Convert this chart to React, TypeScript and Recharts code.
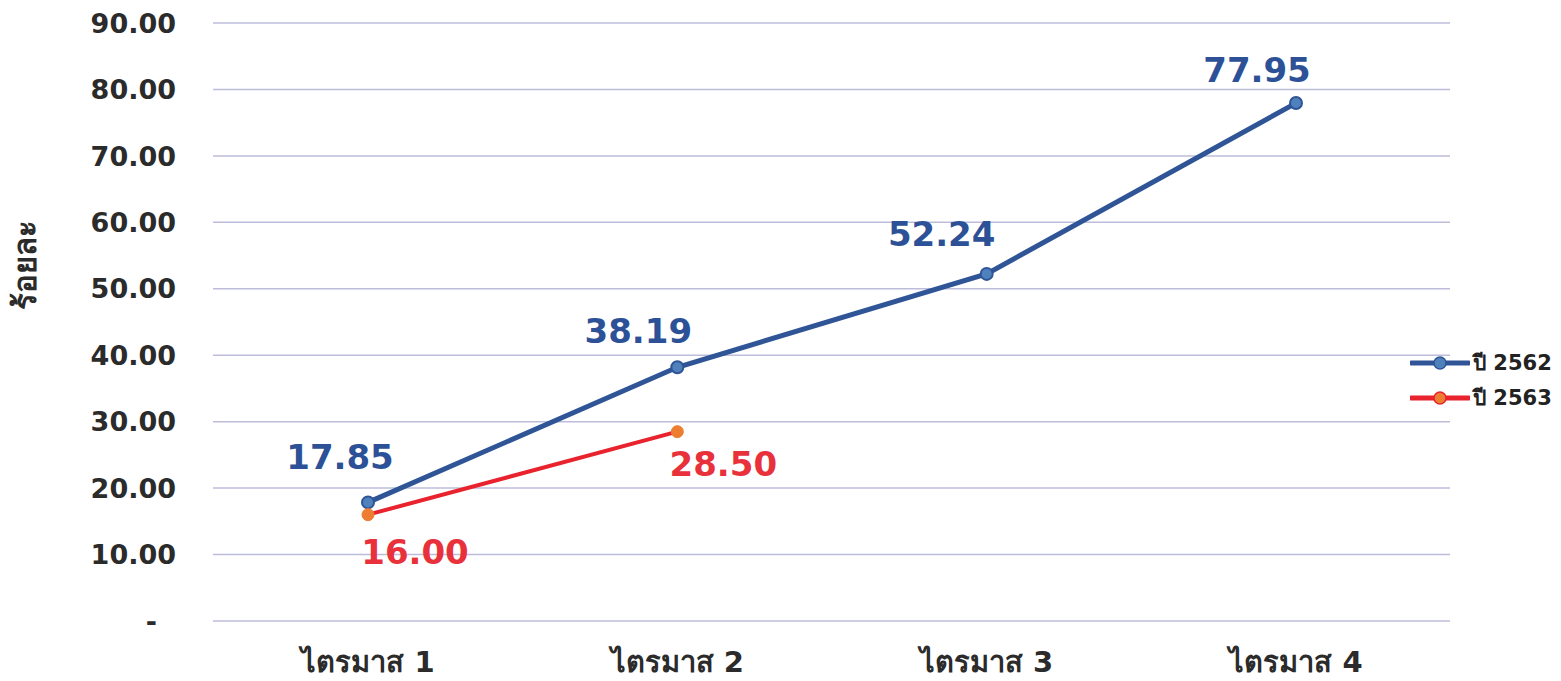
import React from 'react';
import {
    LineChart,
    Line,
    XAxis,
    YAxis,
    CartesianGrid,
    Legend,
    LabelList,
} from 'recharts';

const categories = ['ไตรมาส 1', 'ไตรมาส 2', 'ไตรมาส 3', 'ไตรมาส 4'];
const year2562 = [17.85, 38.19, 52.24, 77.95];
const year2563 = [16.0, 28.5, null, null];
const yTicks = [0, 10, 20, 30, 40, 50, 60, 70, 80, 90];

// label nudges so the numbers sit where the original put them
const blueLabelOffsets = [[-28, -43], [-39, -34], [-45, -37], [-39, -31]];
const redLabelOffsets = [[47, 40], [46, 35]];

const FONT = '"DejaVu Sans", Tahoma, sans-serif';
const BLUE = '#2c5197';
const RED = '#e8232d';

const rows = categories.map((name, i) => ({
    name,
    y2562: year2562[i],
    y2563: year2563[i],
}));

const YTick = (props: any) => {
    const { x, y, payload } = props;
    const isZero = payload.value === 0;
    return (
        <text
            x={isZero ? x - 19 : x}
            y={y}
            dy="0.36em"
            textAnchor="end"
            fill="#2b2b2b"
            fontFamily={FONT}
            fontWeight="bold"
            fontSize={27}
        >
            {isZero ? '-' : Number(payload.value).toFixed(2)}
        </text>
    );
};

const XTick = (props: any) => {
    const { x, y, payload } = props;
    return (
        <text
            x={x}
            y={y}
            dy={43}
            textAnchor="middle"
            fill="#2b2b2b"
            fontFamily={FONT}
            fontWeight="bold"
            fontSize={29}
        >
            {payload.value}
        </text>
    );
};

const makeLabel = (color: string, offsets: number[][]) => (props: any) => {
    const { x, y, value, index } = props;
    if (value == null) return null;
    const [dx, dy] = offsets[index] || [0, -30];
    return (
        <text
            x={x + dx}
            y={y + dy}
            dominantBaseline="middle"
            textAnchor="middle"
            fill={color}
            fontFamily={FONT}
            fontWeight="bold"
            fontSize={34}
        >
            {Number(value).toFixed(2)}
        </text>
    );
};

const AxisTitle = (props: any) => {
    const { viewBox } = props;
    const cx = viewBox.x + 19;
    const cy = viewBox.y + viewBox.height / 2 - 57;
    return (
        <text
            x={cx}
            y={cy}
            transform={`rotate(-90 ${cx} ${cy})`}
            textAnchor="middle"
            dominantBaseline="middle"
            fill="#2b2b2b"
            fontFamily={FONT}
            fontWeight="bold"
            fontSize={31}
        >
            ร้อยละ
        </text>
    );
};

const legendItems = [
    { label: 'ปี 2562', line: '#2f5597', dot: '#4f81bd' },
    { label: 'ปี 2563', line: RED, dot: '#ed7d31' },
];

const LegendBox = () => (
    <div style={{ marginLeft: -40, width: 150 }}>
        {legendItems.map((item) => (
            <div key={item.label} style={{ display: 'flex', alignItems: 'center', height: 35 }}>
                <svg width={60} height={16} style={{ flex: 'none' }}>
                    <line x1={1} y1={8} x2={59} y2={8} stroke={item.line} strokeWidth={5} strokeLinecap="round" />
                    <circle cx={30} cy={8} r={6} fill={item.dot} stroke={item.line} strokeWidth={1.5} />
                </svg>
                <span
                    style={{
                        fontFamily: FONT,
                        fontWeight: 'bold',
                        fontSize: 21,
                        color: '#222',
                        marginLeft: 3,
                        whiteSpace: 'nowrap',
                    }}
                >
                    {item.label}
                </span>
            </div>
        ))}
    </div>
);

export default function App() {
    // negative bottom margin lets the svg reach the window's last row without a scrollbar
    return (
        <div style={{ width: 1545, height: 673, marginBottom: -8, background: '#fff' }}>
            <LineChart
                width={1545}
                height={673}
                data={rows}
                margin={{ top: 15, right: 0, bottom: 0, left: 0 }}
            >
                <CartesianGrid vertical={false} stroke="#bdbddb" strokeWidth={1.5} />
                <XAxis
                    dataKey="name"
                    axisLine={false}
                    tickLine={false}
                    height={60}
                    padding={{ left: 155, right: 154 }}
                    tick={<XTick />}
                />
                <YAxis
                    domain={[0, 90]}
                    ticks={yTicks}
                    width={205}
                    axisLine={false}
                    tickLine={false}
                    tickMargin={31}
                    tick={<YTick />}
                    label={<AxisTitle />}
                />
                <Legend
                    layout="vertical"
                    align="right"
                    verticalAlign="top"
                    wrapperStyle={{ width: 103, top: 337 }}
                    content={<LegendBox />}
                />
                <Line
                    type="linear"
                    dataKey="y2562"
                    name="ปี 2562"
                    stroke="#2f5597"
                    strokeWidth={5}
                    dot={{ r: 6, fill: '#4f81bd', stroke: '#2f5597', strokeWidth: 2 }}
                    isAnimationActive={false}
                >
                    <LabelList dataKey="y2562" content={makeLabel(BLUE, blueLabelOffsets)} />
                </Line>
                <Line
                    type="linear"
                    dataKey="y2563"
                    name="ปี 2563"
                    stroke={RED}
                    strokeWidth={4}
                    dot={{ r: 6, fill: '#ed7d31', stroke: '#ed7d31', strokeWidth: 1 }}
                    isAnimationActive={false}
                >
                    <LabelList dataKey="y2563" content={makeLabel('#e8313a', redLabelOffsets)} />
                </Line>
            </LineChart>
        </div>
    );
}
